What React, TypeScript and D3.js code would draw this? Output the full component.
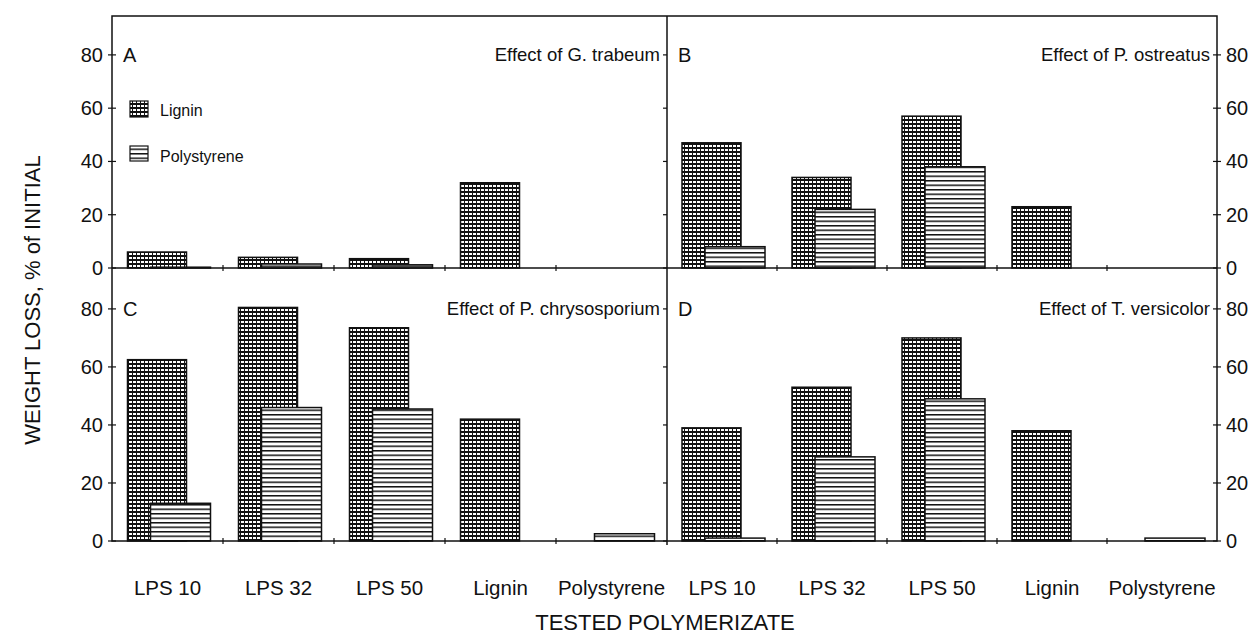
import * as d3 from "d3";

const categories = ["LPS 10", "LPS 32", "LPS 50", "Lignin", "Polystyrene"];
const yTicks = [0, 20, 40, 60, 80];

// weight loss (% of initial)
const ligninA = [6, 4, 3.5, 32, 0];
const polyA = [0.3, 1.5, 1.2, 0, 0];
const ligninB = [47, 34, 57, 23, 0];
const polyB = [8, 22, 38, 0, 0];
const ligninC = [62.5, 80.5, 73.5, 42, 0];
const polyC = [13, 46, 45.5, 0, 2.5];
const ligninD = [39, 53, 70, 38, 0];
const polyD = [1, 29, 49, 0, 1];

const panels = [
  { letter: "A", title: "Effect of G. trabeum", lignin: ligninA, poly: polyA, col: 0, row: 0 },
  { letter: "B", title: "Effect of P. ostreatus", lignin: ligninB, poly: polyB, col: 1, row: 0 },
  { letter: "C", title: "Effect of P. chrysosporium", lignin: ligninC, poly: polyC, col: 0, row: 1 },
  { letter: "D", title: "Effect of T. versicolor", lignin: ligninD, poly: polyD, col: 1, row: 1 },
];

const font = "'Liberation Sans', Arial, sans-serif";
const left = 112;
const mid = 667;
const right = 1217;
const top = 16;
const midY = 268;
const bottom = 541;

export default function App() {
  const colX = [
    [left, mid],
    [mid, right],
  ];
  const rowY = [
    d3.scaleLinear().domain([0, 94.6]).range([midY, top]),
    d3.scaleLinear().domain([0, 94.1]).range([bottom, midY]),
  ];

  return (
    <svg width={1258} height={636} style={{ position: "absolute", left: 0, top: 0, background: "#fff" }} fontFamily={font}>
      <defs>
        <pattern id="grid" width={4} height={4} patternUnits="userSpaceOnUse">
          <rect width={4} height={4} fill="#111" />
          <rect x={1} y={1} width={3} height={2} fill="#fff" />
        </pattern>
        <pattern id="hlines" width={4.5} height={4.5} patternUnits="userSpaceOnUse">
          <rect width={4.5} height={4.5} fill="#fff" />
          <rect y={0} width={4.5} height={1.5} fill="#111" />
        </pattern>
      </defs>

      {panels.map((p) => {
        const [x0, x1] = colX[p.col];
        const x = d3.scaleBand().domain(categories).range([x0, x1]);
        const y = rowY[p.row];
        const bw = 59;
        return (
          <g key={p.letter}>
            {categories.map((c, i) => {
              const cx = (x(c) as number) + x.bandwidth() / 2;
              const lv = p.lignin[i];
              const pv = p.poly[i];
              return (
                <g key={c}>
                  {lv > 0 && (
                    <rect x={cx - 40} y={y(lv)} width={bw} height={y(0) - y(lv)} fill="url(#grid)" stroke="#111" strokeWidth={1.5} />
                  )}
                  {pv > 0 && (
                    <rect x={cx - 17} y={y(pv)} width={bw + 1} height={y(0) - y(pv)} fill="url(#hlines)" stroke="#111" strokeWidth={1.5} />
                  )}
                </g>
              );
            })}
            {/* x ticks at category boundaries */}
            {categories.slice(1).map((c) => (
              <line key={c} x1={x(c)} x2={x(c)} y1={y(0) - 3} y2={y(0) + 3} stroke="#111" strokeWidth={1.2} />
            ))}
            {/* y ticks */}
            {yTicks.map((t) =>
              p.col === 0 ? (
                <g key={t}>
                  <line x1={left - 4} x2={left + 4} y1={y(t)} y2={y(t)} stroke="#111" strokeWidth={1.2} />
                  <text x={left - 9} y={y(t)} dy="0.35em" textAnchor="end" fontSize={20} fill="#111">
                    {t}
                  </text>
                </g>
              ) : (
                <g key={t}>
                  <line x1={mid - 4} x2={mid} y1={y(t)} y2={y(t)} stroke="#111" strokeWidth={1.2} />
                  <line x1={right - 4} x2={right + 4} y1={y(t)} y2={y(t)} stroke="#111" strokeWidth={1.2} />
                  <text x={right + 9} y={y(t)} dy="0.35em" textAnchor="start" fontSize={20} fill="#111">
                    {t}
                  </text>
                </g>
              )
            )}
            <text x={x0 + 11} y={y(80)} dy="0.35em" fontSize={20} fill="#111">
              {p.letter}
            </text>
            <text x={x1 - 7} y={y(80)} dy="0.35em" textAnchor="end" fontSize={18.5} fill="#111">
              {p.title}
            </text>
            {p.row === 1 &&
              categories.map((c) => (
                <text key={c} x={(x(c) as number) + x.bandwidth() / 2} y={588} dy="0.35em" textAnchor="middle" fontSize={20.5} fill="#111">
                  {c}
                </text>
              ))}
          </g>
        );
      })}

      {/* frame */}
      <rect x={left} y={top} width={right - left} height={bottom - top} fill="none" stroke="#111" strokeWidth={1.5} />
      <line x1={left} x2={right} y1={midY} y2={midY} stroke="#111" strokeWidth={1.5} />
      <line x1={mid} x2={mid} y1={top} y2={bottom + 4} stroke="#111" strokeWidth={1.5} />

      {/* legend */}
      <rect x={130} y={101} width={18} height={16} fill="url(#grid)" stroke="#111" strokeWidth={1.2} />
      <text x={160} y={110} dy="0.35em" fontSize={16} fill="#111">
        Lignin
      </text>
      <rect x={130} y={146} width={18} height={15} fill="url(#hlines)" stroke="#111" strokeWidth={1.2} />
      <text x={160} y={156} dy="0.35em" fontSize={16} fill="#111">
        Polystyrene
      </text>

      <text x={665} y={622} dy="0.35em" textAnchor="middle" fontSize={22} fill="#111">
        TESTED POLYMERIZATE
      </text>
      <text transform="translate(32,300) rotate(-90)" dy="0.35em" textAnchor="middle" fontSize={22} fill="#111">
        WEIGHT LOSS, % of INITIAL
      </text>
    </svg>
  );
}
